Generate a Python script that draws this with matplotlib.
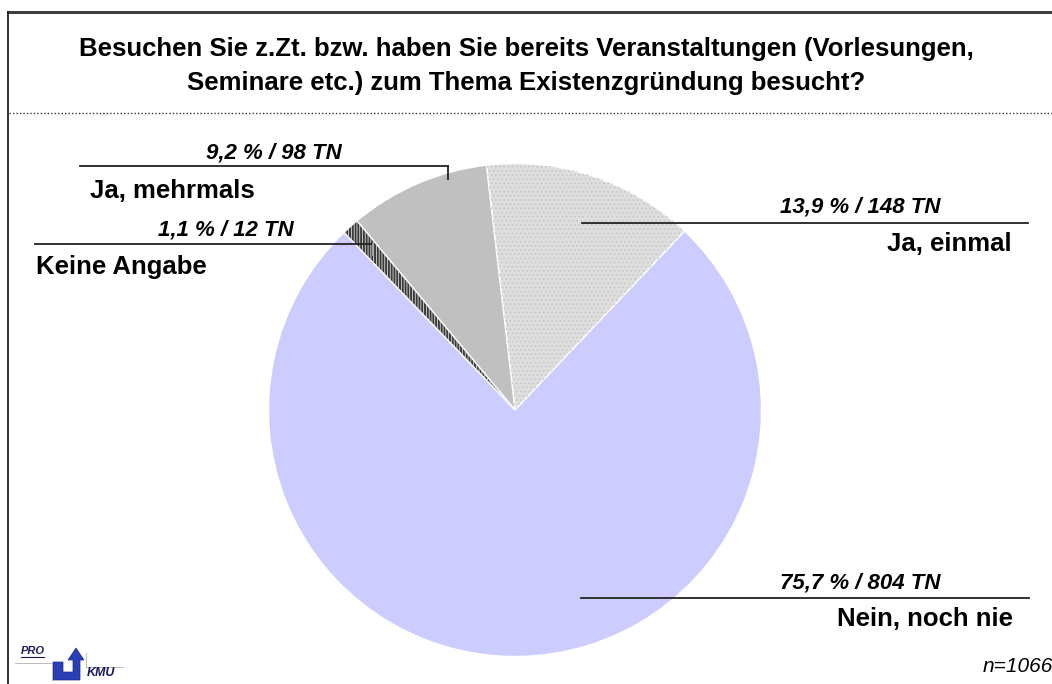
import matplotlib
matplotlib.use("Agg")
import matplotlib.pyplot as plt
from matplotlib.lines import Line2D
from matplotlib.patches import Polygon

plt.rcParams['font.family'] = ['Liberation Sans', 'DejaVu Sans']
plt.rcParams['hatch.linewidth'] = 0.6

# ---- data ----
title = "Besuchen Sie z.Zt. bzw. haben Sie bereits Veranstaltungen (Vorlesungen,\nSeminare etc.) zum Thema Existenzgründung besucht?"
categories = ["Ja, einmal", "Ja, mehrmals", "Keine Angabe", "Nein, noch nie"]
counts = [148, 98, 12, 804]
percents = ["13,9", "9,2", "1,1", "75,7"]
n_total = 1066

colors = ["#dedede", "#c0c0c0", "#3a3a3a", "#ccccff"]
hatches = ["....", None, "||||||", None]
hatch_colors = ["#c4c4c4", None, "#dddddd", None]

W, H = 1052, 684
fig = plt.figure(figsize=(W / 100, H / 100), dpi=100)

def fx(x):
    return x / W

def fy(y):
    return 1 - y / H

# pie axes
cx, cy, r = 515, 410, 246.5
ax = fig.add_axes([fx(cx - r), fy(cy + r), 2 * r / W, 2 * r / H])
wedges, _ = ax.pie(counts, colors=colors, startangle=46.5, counterclock=True,
                   wedgeprops=dict(edgecolor="white", linewidth=1.0))
over, _ = ax.pie(counts, colors=["none"] * len(counts), startangle=46.5, counterclock=True,
                 wedgeprops=dict(linewidth=0))
for w, h, hc in zip(over, hatches, hatch_colors):
    if h:
        w.set_hatch(h)
        w.set_edgecolor(hc)
        w.set_facecolor("none")
    else:
        w.set_visible(False)
ax.set_xlim(-1, 1)
ax.set_ylim(-1, 1)
ax.set_aspect("equal")
ax.axis("off")

# frame
fig.add_artist(Line2D([fx(8), 1.0], [fy(12), fy(12)], color="#404040", lw=2.2))
fig.add_artist(Line2D([fx(8), fx(8)], [fy(12), 0], color="#202020", lw=1.3))
fig.add_artist(Line2D([fx(9), 1.0], [fy(113), fy(113)], color="#333333", lw=1.0,
                      linestyle=(0, (1, 1.5))))

fig.text(0.5, fy(66), title, ha="center", va="center", fontsize=18.5,
         fontweight="bold", linespacing=1.55)

# labels
def label(idx, x0, x1, yline, xtxt, ypct, xname, yname, name_ha, tick=None):
    fig.add_artist(Line2D([fx(x0), fx(x1)], [fy(yline), fy(yline)], color="#222222", lw=1.3))
    if tick is not None:
        fig.add_artist(Line2D([fx(tick[0]), fx(tick[0])], [fy(yline), fy(tick[1])],
                              color=tick[2], lw=1.3))
    fig.text(fx(xtxt), fy(ypct), f"{percents[idx]} % / {counts[idx]} TN", ha="center",
             va="center", fontsize=16, fontweight="bold", style="italic")
    fig.text(fx(xname), fy(yname), categories[idx], ha=name_ha, va="center",
             fontsize=18.5, fontweight="bold")

label(0, 582, 1028, 223, 860, 207, 1012, 244, "right")
label(1, 80, 448, 166, 274, 153, 90, 191, "left", tick=(448, 179, "#222222"))
label(2, 35, 373, 244, 226, 230, 36, 267, "left", tick=(373, 255, "#aaaaaa"))
label(3, 581, 1029, 598, 860, 583, 1013, 619, "right")

fig.text(fx(1053), fy(666), f"n={n_total}", ha="right", va="center", fontsize=15,
         style="italic")

# logo
fig.text(fx(21), fy(651), "PRO", fontsize=8, fontweight="bold", style="italic",
         color="#1a1a5a", va="center", ha="left")
fig.add_artist(Line2D([fx(21), fx(44)], [fy(657), fy(657)], color="#1a1a5a", lw=0.8))
fig.add_artist(Line2D([fx(15), fx(52)], [fy(663), fy(663)], color="#bbbbbb", lw=0.7))
fig.add_artist(Line2D([fx(52), fx(52)], [fy(663), fy(680)], color="#bbbbbb", lw=0.7))
fig.add_artist(Line2D([fx(86), fx(86)], [fy(653), fy(667)], color="#bbbbbb", lw=0.7))
fig.add_artist(Line2D([fx(86), fx(123)], [fy(667), fy(667)], color="#bbbbbb", lw=0.7))
u = [(53, 662), (63, 662), (63, 672), (73, 672), (73, 660), (68, 660), (76, 648),
     (84, 660), (80, 660), (80, 680), (53, 680)]
fig.add_artist(Polygon([(fx(x), fy(y)) for x, y in u], closed=True,
                       facecolor="#2b3fb5", edgecolor="#1a2a90", lw=0.5))
fig.text(fx(87), fy(673), "KMU", fontsize=9, fontweight="bold", style="italic",
         color="#1a1a5a", va="center", ha="left")

fig.savefig("out.png", dpi=100)
